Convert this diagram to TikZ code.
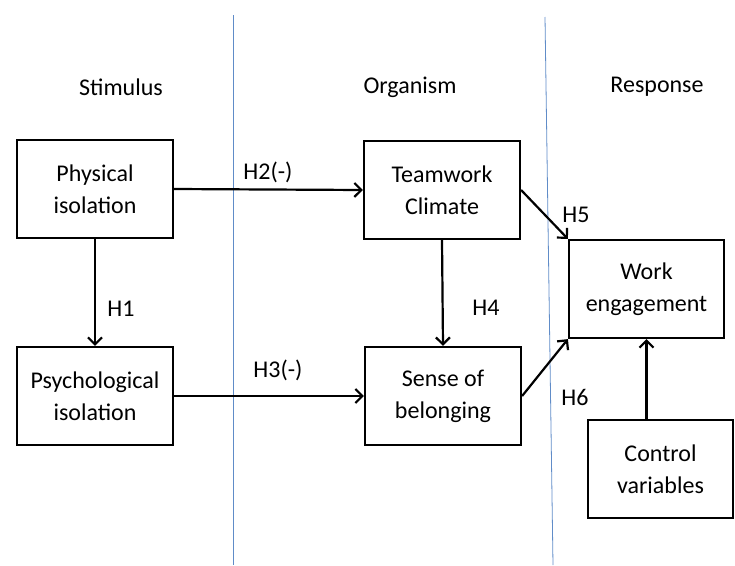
\documentclass[tikz,border=0pt]{standalone}
\usepackage{fontspec}
\setmainfont{Carlito}
\usepackage{xcolor}
\usepackage{tikz}
\usetikzlibrary{positioning,arrows.meta}
\definecolor{divider}{RGB}{96,140,200}

\begin{document}
\begin{tikzpicture}[x=1pt,y=-1pt,
  font=\fontsize{24}{32}\selectfont,
  box/.style={draw,line width=2.2pt,align=center,minimum width=156pt,minimum height=98pt,inner sep=0pt},
  link/.style={line width=2.2pt,-{Straight Barb[length=7pt,width=14pt,line width=2.2pt]}},
  hyp/.style={inner sep=0pt}]
\useasboundingbox (0,0) rectangle (735,565);
% phase dividers
\draw [divider,line width=0.8pt] (233,15) -- (233,565);
\draw [divider,line width=0.8pt] (545,17) -- (553,565);
% phase headings
\node (stim) at (121,87) {Stimulus};
\node (org) at (410,87) {Organism};
\node (resp) at (657,87) {Response};
% boxes
\node [box] (phys) at (95,189) {Physical\\isolation};
\node [box] (psych) at (95,396) {Psychological\\isolation};
\node [box] (team) at (442,190) {Teamwork\\Climate};
\node [box] (belong) at (443,396) {Sense of\\belonging};
\node [box,minimum width=155pt] (work) at (646.5,289) {Work\\engagement};
\node [box,minimum width=145pt] (ctrl) at (660.5,469) {Control\\variables};
% paths
\draw [link] (phys.east) -- (team.west);
\draw [link] (phys.south) -- (psych.north);
\draw [link] (psych.east) -- (belong.west);
\draw [link] (team.south) -- (belong.north);
\draw [link] (team.east) -- (work.north west);
\draw [link] (belong.east) -- (work.south west);
\draw [link] (ctrl.north -| work.south) -- (work.south);
% hypotheses
\node [hyp] (h1) at (121,309) {H1};
\node [hyp] (h2) at (268,172) {H2(-)};
\node [hyp] (h3) at (278,370) {H3(-)};
\node [hyp] (h4) at (486,308) {H4};
\node [hyp] (h5) at (576,215) {H5};
\node [hyp] (h6) at (575,397) {H6};
\end{tikzpicture}
\end{document}
